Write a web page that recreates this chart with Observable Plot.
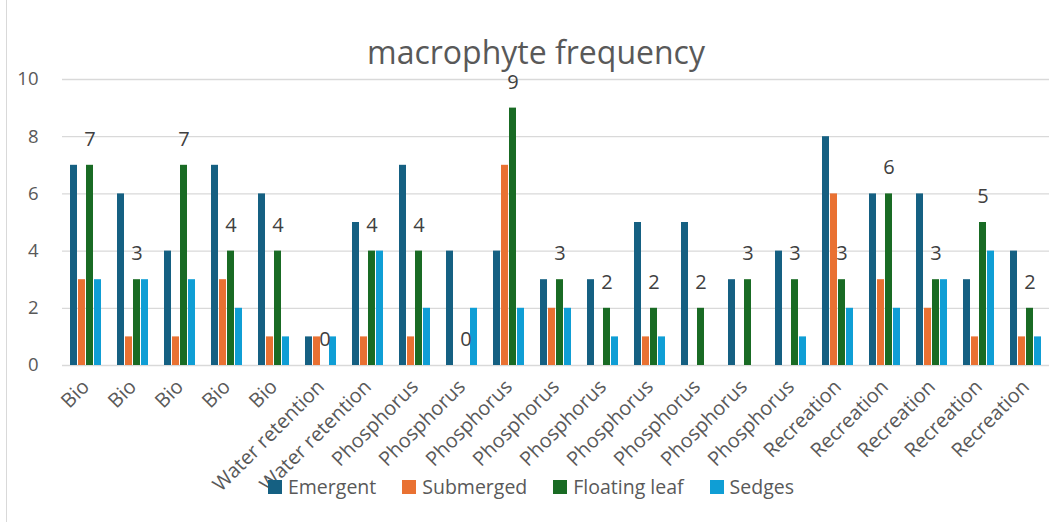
<!DOCTYPE html>
<html><head><meta charset="utf-8">
<script src="https://cdn.jsdelivr.net/npm/d3@7"></script>
<script src="https://cdn.jsdelivr.net/npm/@observablehq/plot@0.6"></script>
<style>
body{margin:0;background:#fff;font-family:"Open Sans",sans-serif;}
#wrap{position:relative;width:1058px;height:522px;overflow:hidden;background:#fff;}
#frame{position:absolute;left:6px;top:0;width:1px;height:522px;background:#d9d9d9;}
#title{position:absolute;top:31px;left:0;width:1072px;text-align:center;font-size:32px;color:#595959;line-height:42px;}
#legend{position:absolute;top:474px;left:0;width:1062px;display:flex;justify-content:center;gap:26px;font-size:19.5px;color:#595959;line-height:26px;}
#legend span.i{display:flex;align-items:center;gap:6px;}
#legend span.s{display:inline-block;width:14px;height:14px;}
#chart{position:absolute;left:0;top:0;}
</style></head>
<body>
<div id="wrap">
<div id="chart"></div>
<div id="frame"></div>
<div id="title">macrophyte frequency</div>
<div id="legend"></div>
</div>
<script>
const categories = ["Bio","Bio","Bio","Bio","Bio","Water retention","Water retention",
  "Phosphorus","Phosphorus","Phosphorus","Phosphorus","Phosphorus","Phosphorus","Phosphorus","Phosphorus","Phosphorus",
  "Recreation","Recreation","Recreation","Recreation","Recreation"];
const seriesNames = ["Emergent","Submerged","Floating leaf","Sedges"];
const emergent  = [7,6,4,7,6,1,5,7,4,4,3,3,5,5,3,4,8,6,6,3,4];
const submerged = [3,1,1,3,1,1,1,1,0,7,2,0,1,0,0,0,6,3,2,1,1];
const floating  = [7,3,7,4,4,0,4,4,0,9,3,2,2,2,3,3,3,6,3,5,2];
const sedges    = [3,3,3,2,1,1,4,2,2,2,2,1,1,0,0,1,2,2,3,4,1];
const colors = ["#156082","#E97132","#196B24","#0F9ED5"];
const yTicks = [0,2,4,6,8,10];

const seriesValues = [emergent, submerged, floating, sedges];
const rows = [];
categories.forEach((c, i) => {
  seriesNames.forEach((s, k) => rows.push({g: i, series: s, value: seriesValues[k][i]}));
});
const labelRows = rows.filter(d => d.series === "Floating leaf");

const chart = Plot.plot({
  width: 1058, height: 522,
  marginTop: 79, marginBottom: 157, marginLeft: 57, marginRight: 5,
  style: {fontFamily: "Open Sans, sans-serif", background: "transparent"},
  fx: {domain: d3.range(categories.length), padding: 0, label: null},
  x: {domain: seriesNames, paddingInner: 0.176, paddingOuter: 0.876, axis: null},
  y: {domain: [0, 10], label: null},
  color: {domain: seriesNames, range: colors},
  marks: [
    Plot.ruleY(yTicks, {stroke: "#d9d9d9", strokeWidth: 1.3}),
    Plot.barY(rows, {fx: "g", x: "series", y: "value", fill: "series"}),
    Plot.text(labelRows, {fx: "g", x: "series", y: "value", text: d => String(d.value), dy: -26, fontSize: 20, fill: "#404040"}),
    Plot.axisY(yTicks, {tickSize: 0, tickPadding: 24, fontSize: 18.5, fill: "#595959", label: null}),
    Plot.axisFx({anchor: "bottom", tickRotate: -45, tickSize: 0, tickPadding: 18, tickFormat: i => categories[i], fontSize: 20, fill: "#595959", label: null})
  ]
});
document.getElementById("chart").appendChild(chart);

const legend = document.getElementById("legend");
seriesNames.forEach((s, k) => {
  const item = document.createElement("span");
  item.className = "i";
  const sw = document.createElement("span");
  sw.className = "s";
  sw.style.background = colors[k];
  item.appendChild(sw);
  item.appendChild(document.createTextNode(s));
  legend.appendChild(item);
});
</script>
</body></html>
